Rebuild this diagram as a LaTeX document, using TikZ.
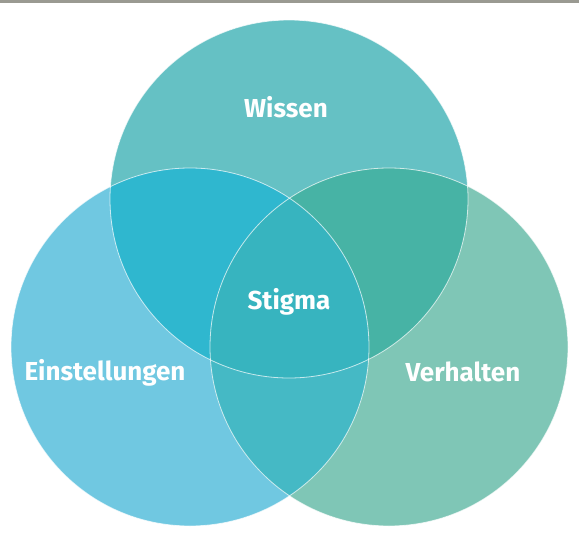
\documentclass[tikz,border=0pt]{standalone}
\usepackage{fontspec}
\setmainfont{Fira Sans}
\definecolor{wissenc}{HTML}{65C1C4}
\definecolor{einstc}{HTML}{70C8E1}
\definecolor{verhc}{HTML}{7FC6B6}
\definecolor{wec}{HTML}{2FB7CF}
\definecolor{wvc}{HTML}{47B3A5}
\definecolor{evc}{HTML}{45B9C5}
\definecolor{stigc}{HTML}{37B4BF}
\definecolor{rulec}{HTML}{9A9A92}
\tikzset{
  label/.style={text=white,font=\fontsize{26}{30}\selectfont\bfseries},
  rim/.style={draw=white,opacity=0.7,line width=0.8pt}
}
\begin{document}
\begin{tikzpicture}[x=1pt,y=-1pt]
  \useasboundingbox (0,0) rectangle (579,546);
  \fill[rulec] (0,0) rectangle (579,2.5);
  \coordinate (w) at (289,199);
  \coordinate (e) at (190,347);
  \coordinate (v) at (389,347);
  \def\rad{179}
  % circles
  \fill[wissenc] (w) circle (\rad);
  \fill[einstc] (e) circle (\rad);
  \fill[verhc] (v) circle (\rad);
  % overlaps
  \begin{scope}
    \clip (w) circle (\rad);
    \fill[wec] (e) circle (\rad);
    \fill[wvc] (v) circle (\rad);
  \end{scope}
  \begin{scope}
    \clip (e) circle (\rad);
    \fill[evc] (v) circle (\rad);
    \clip (v) circle (\rad);
    \fill[stigc] (w) circle (\rad);
  \end{scope}
  \begin{scope}[rim]
    \draw (w) circle (\rad);
    \draw (e) circle (\rad);
    \draw (v) circle (\rad);
  \end{scope}
  \node[label] (wissen) at (286,107) {Wissen};
  \node[label] (stigma) at (289,302) {Stigma};
  \node[label] (einst) at (105,373) {Einstellungen};
  \node[label] (verh) at (463,372) {Verhalten};
\end{tikzpicture}
\end{document}
